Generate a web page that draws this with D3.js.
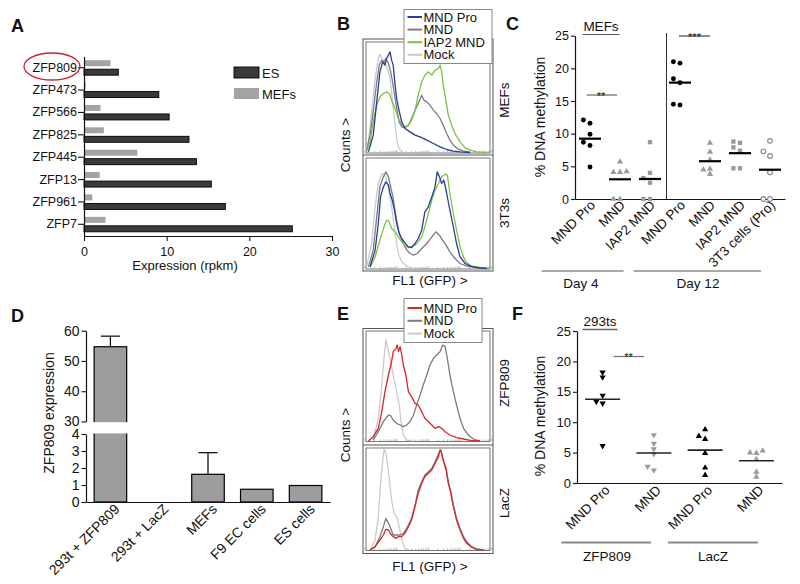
<!DOCTYPE html>
<html><head><meta charset="utf-8">
<script src="https://cdn.jsdelivr.net/npm/d3@7/dist/d3.min.js"></script>
<style>
html,body{margin:0;padding:0;background:#fff;}
svg{display:block;}
svg text{font-family:"Liberation Sans",Arial,Helvetica,sans-serif;fill:#111;}
</style></head>
<body>
<svg id="fig" width="800" height="584" viewBox="0 0 800 584"></svg>
<script>
// ================= DATA =================
// Panel A: expression (rpkm)
const genes   = ["ZFP809","ZFP473","ZFP566","ZFP825","ZFP445","ZFP13","ZFP961","ZFP7"];
const esExpr  = [4.15, 9.05, 10.3, 12.7, 13.6, 15.4, 17.1, 25.2];
const mefExpr = [3.2, 0.2, 2.0, 2.4, 6.45, 1.9, 1.0, 2.6];
const exprTicks = [0, 10, 20, 30];

// Panel B: FACS histograms [log10 FL1 decade, counts]
const mefsMock = [[0,2],[0.11,32],[0.21,122],[0.32,222],[0.42,282],[0.47,294],[0.56,277],[0.66,262],[0.77,232],[0.84,182],[0.89,132],[0.95,82],[1.0,42],[1.05,17],[1.11,7],[1.21,0]];
const mefsMnd = [[0.05,7],[0.16,52],[0.26,122],[0.37,212],[0.45,262],[0.53,277],[0.6,272],[0.66,282],[0.74,267],[0.81,242],[0.87,212],[0.95,162],[1.02,122],[1.08,92],[1.16,77],[1.26,74],[1.37,82],[1.47,102],[1.58,127],[1.68,147],[1.79,172],[1.86,157],[1.95,152],[2.05,142],[2.16,127],[2.26,117],[2.37,102],[2.47,82],[2.58,57],[2.68,37],[2.79,22],[2.95,10],[3.11,4],[3.32,0]];
const mefsIap2 = [[0.05,2],[0.16,32],[0.26,92],[0.37,142],[0.47,167],[0.58,177],[0.68,182],[0.77,177],[0.84,157],[0.95,132],[1.05,102],[1.16,84],[1.26,77],[1.37,82],[1.47,97],[1.58,127],[1.68,172],[1.79,212],[1.89,232],[2.0,242],[2.11,232],[2.21,247],[2.32,252],[2.37,262],[2.42,242],[2.47,202],[2.56,152],[2.63,112],[2.74,82],[2.84,57],[3.0,32],[3.16,14],[3.32,7],[3.53,2],[3.84,0]];
const mefsMndPro = [[0.11,2],[0.26,52],[0.37,152],[0.47,242],[0.56,272],[0.63,262],[0.68,282],[0.74,292],[0.79,302],[0.84,277],[0.89,262],[0.95,202],[1.0,162],[1.05,137],[1.11,112],[1.16,92],[1.26,72],[1.42,62],[1.58,52],[1.74,47],[1.95,37],[2.16,27],[2.37,17],[2.58,9],[2.79,4],[3.0,2],[3.32,0]];
const t3Mock = [[0.05,5],[0.21,75],[0.32,185],[0.42,255],[0.53,285],[0.63,280],[0.74,245],[0.84,185],[0.95,105],[1.05,45],[1.16,20],[1.32,7],[1.53,0]];
const t3Mnd = [[0.11,5],[0.26,55],[0.37,155],[0.47,245],[0.58,275],[0.66,290],[0.74,275],[0.81,245],[0.89,210],[0.98,155],[1.08,105],[1.21,75],[1.32,55],[1.42,45],[1.53,40],[1.65,45],[1.79,60],[1.95,75],[2.11,95],[2.24,110],[2.35,100],[2.45,85],[2.56,70],[2.68,50],[2.84,30],[3.0,15],[3.21,7],[3.53,3],[3.84,0]];
const t3Iap2 = [[0.16,3],[0.32,35],[0.47,85],[0.6,125],[0.68,145],[0.77,140],[0.84,120],[0.95,110],[1.05,95],[1.16,80],[1.26,70],[1.37,63],[1.47,65],[1.58,70],[1.68,80],[1.79,95],[1.89,125],[2.0,165],[2.11,205],[2.21,235],[2.32,255],[2.42,275],[2.53,283],[2.6,280],[2.68,225],[2.79,165],[2.89,115],[3.0,65],[3.11,35],[3.21,17],[3.37,7],[3.63,3],[3.95,0]];
const t3MndPro = [[0.16,5],[0.32,55],[0.42,135],[0.49,215],[0.58,245],[0.66,260],[0.74,250],[0.79,225],[0.86,205],[0.93,175],[1.0,135],[1.08,105],[1.16,90],[1.26,77],[1.37,65],[1.47,63],[1.58,75],[1.68,90],[1.79,115],[1.89,170],[2.0,185],[2.11,215],[2.21,245],[2.28,290],[2.35,275],[2.42,255],[2.49,265],[2.58,225],[2.68,175],[2.79,125],[2.89,75],[3.0,35],[3.16,15],[3.32,7],[3.53,3],[3.84,0]];

// Panel C: % DNA methylation
const cLabels = ["MND Pro","MND","IAP2 MND","MND Pro","MND","IAP2 MND","3T3 cells (Pro)"];
const cDay4MndPro  = [12.1, 11.6, 9.9, 8.7, 8.2, 4.9];
const cDay4Mnd     = [5.7, 4.2, 4.1, 4.1, 0, 0];
const cDay4Iap2    = [8.7, 4.0, 3.2, 2.5, 0, 0];
const cDay12MndPro = [21.0, 20.8, 18.4, 17.8, 14.5, 14.4];
const cDay12Mnd    = [8.6, 7.2, 6.0, 4.6, 4.5, 3.8];
const cDay12Iap2   = [8.8, 8.6, 7.9, 7.4, 4.7, 4.7];
const c3T3Pro      = [8.9, 7.3, 6.6, 4.1, 0, 0];
const methTicks = [0, 5, 10, 15, 20, 25];

// Panel D: ZFP809 expression
const dLabels = ["293t + ZFP809","293t + LacZ","MEFs","F9 EC cells","ES cells"];
const dValues = [54.7, 0, 1.63, 0.75, 0.97];
const dErrors = [3.5, 0, 1.27, 0, 0];
const dTicksHigh = [30, 40, 50, 60];
const dTicksLow = [0, 1, 2, 3, 4];

// Panel E: FACS histograms [log10 FL1 decade, counts]
const zfpMock = [[0.26,3],[0.42,68],[0.53,168],[0.6,248],[0.66,303],[0.74,268],[0.81,238],[0.89,198],[1.0,148],[1.08,108],[1.14,58],[1.21,18],[1.32,3],[1.53,0]];
const zfpMnd = [[0.26,3],[0.42,28],[0.58,58],[0.74,78],[0.81,76],[0.89,63],[1.0,53],[1.11,48],[1.21,43],[1.32,48],[1.42,58],[1.53,78],[1.63,108],[1.74,138],[1.84,168],[1.95,198],[2.05,228],[2.16,248],[2.26,258],[2.37,268],[2.45,288],[2.53,283],[2.6,248],[2.68,198],[2.79,148],[2.89,108],[3.0,68],[3.11,38],[3.26,18],[3.42,6],[3.63,0]];
const zfpMndPro = [[0.11,0],[0.26,13],[0.42,38],[0.53,88],[0.63,148],[0.74,198],[0.84,238],[0.89,268],[0.98,278],[1.02,288],[1.06,268],[1.11,283],[1.16,258],[1.21,228],[1.29,198],[1.37,148],[1.47,133],[1.58,113],[1.68,108],[1.79,88],[1.89,68],[2.0,58],[2.11,48],[2.21,38],[2.32,43],[2.42,38],[2.53,28],[2.68,18],[2.89,10],[3.11,6],[3.32,2],[3.63,0]];
const laczMock = [[0.16,0],[0.32,30],[0.42,100],[0.49,200],[0.56,270],[0.61,305],[0.68,280],[0.77,210],[0.84,150],[0.92,110],[1.0,100],[1.08,70],[1.16,30],[1.26,5],[1.42,0]];
const laczMnd = [[0.16,0],[0.32,10],[0.47,40],[0.58,70],[0.66,95],[0.77,75],[0.89,45],[1.0,45],[1.11,45],[1.21,50],[1.32,65],[1.47,95],[1.58,135],[1.68,180],[1.79,205],[1.89,225],[2.0,235],[2.11,245],[2.21,265],[2.35,295],[2.4,300],[2.45,275],[2.56,245],[2.63,205],[2.71,175],[2.79,135],[2.89,95],[3.0,65],[3.11,40],[3.21,25],[3.37,10],[3.53,3],[3.74,0]];
const laczMndPro = [[0.16,0],[0.32,10],[0.47,30],[0.58,45],[0.66,62],[0.74,60],[0.81,48],[0.89,40],[0.98,35],[1.05,40],[1.16,40],[1.26,50],[1.37,70],[1.47,90],[1.58,130],[1.68,170],[1.79,200],[1.89,220],[2.0,230],[2.11,240],[2.21,260],[2.32,280],[2.37,300],[2.42,290],[2.47,270],[2.56,240],[2.63,200],[2.71,170],[2.79,130],[2.89,90],[3.0,60],[3.11,35],[3.21,20],[3.37,8],[3.53,2],[3.74,0]];

// Panel F: % DNA methylation
const fLabels = ["MND Pro","MND","MND Pro","MND"];
const fZfpMndPro  = [18.2, 17.4, 14.4, 13.4, 13.1, 6.1];
const fZfpMnd     = [7.9, 6.5, 5.6, 4.8, 2.7, 2.1];
const fLaczMndPro = [8.8, 7.7, 7.2, 4.9, 2.5, 1.3];
const fLaczMnd    = [5.3, 5.0, 4.9, 3.9, 1.8, 1.0];

// ================= DRAWING =================
const FONT = '"Liberation Sans", Arial, Helvetica, sans-serif';
const svg = d3.select("#fig");
const INK = "#111";

function styleAxis(sel, size) {
  sel.attr("font-family", FONT).attr("font-size", size);
  sel.selectAll("path.domain").attr("stroke", INK).attr("stroke-width", 1.2);
  sel.selectAll(".tick line").attr("stroke", INK).attr("stroke-width", 1.1);
  sel.selectAll(".tick text").attr("fill", INK);
}
function text(g, x, y, s, size, anchor, extra) {
  const t = g.append("text").attr("x", x).attr("y", y).attr("font-size", size)
    .attr("text-anchor", anchor || "start").text(s);
  if (extra) extra(t);
  return t;
}
function vtext(g, x, y, s, size, rot) {
  return g.append("text").attr("transform", `translate(${x},${y}) rotate(${rot})`)
    .attr("text-anchor", "middle").attr("font-size", size).text(s);
}
function rotLabel(g, x, y, s, size) {
  return g.append("text").attr("transform", `translate(${x},${y}) rotate(-45)`)
    .attr("text-anchor", "end").attr("font-size", size).text(s);
}
function letter(x, y, s) {
  svg.append("text").attr("x", x).attr("y", y).attr("font-size", 18)
    .attr("font-weight", "bold").text(s);
}

letter(11, 32, "A"); letter(337, 30, "B"); letter(506, 30, "C");
letter(11, 322, "D"); letter(337, 320, "E"); letter(512, 320, "F");

// ---------- Panel A ----------
{
  const g = svg.append("g");
  const x = d3.scaleLinear().domain([0, 30]).range([84, 332]);
  const y = d3.scaleBand().domain(genes).range([56.5, 235.5]);
  const half = y.step() / 2;
  g.selectAll("rect.mef").data(genes).join("rect").attr("class", "mef")
    .attr("x", x(0)).attr("y", d => y(d) + half - 7.5)
    .attr("width", (d, i) => x(mefExpr[i]) - x(0)).attr("height", 6)
    .attr("fill", "#a3a3a6");
  g.selectAll("rect.es").data(genes).join("rect").attr("class", "es")
    .attr("x", x(0)).attr("y", d => y(d) + half + 1.5)
    .attr("width", (d, i) => x(esExpr[i]) - x(0)).attr("height", 6)
    .attr("fill", "#3a3a3a").attr("stroke", "#000").attr("stroke-width", 0.9);
  g.append("g").attr("transform", "translate(0,236)")
    .call(d3.axisBottom(x).tickValues(exprTicks).tickSize(5).tickSizeOuter(0).tickPadding(6))
    .call(s => styleAxis(s, 12.5));
  g.append("g").attr("transform", "translate(84,0)")
    .call(d3.axisLeft(y).tickSize(6).tickSizeOuter(0).tickPadding(1))
    .call(s => styleAxis(s, 12.5));
  text(g, 185, 270, "Expression (rpkm)", 13, "middle");
  // legend
  g.append("rect").attr("x", 234).attr("y", 67).attr("width", 25).attr("height", 11)
    .attr("fill", "#3a3a3a").attr("stroke", "#000").attr("stroke-width", 0.9);
  g.append("rect").attr("x", 234).attr("y", 88).attr("width", 25).attr("height", 11)
    .attr("fill", "#a3a3a6");
  text(g, 262, 77.5, "ES", 13);
  text(g, 262, 98.5, "MEFs", 13);
  // highlight
  g.append("ellipse").attr("cx", 52).attr("cy", 66.5).attr("rx", 28).attr("ry", 13.5)
    .attr("fill", "none").attr("stroke", "#cf1f2e").attr("stroke-width", 1.3);
}

// ---------- FACS panels (B, E) ----------
function facs(cfg) {
  const g = svg.append("g");
  const x = d3.scaleLog().domain([1, 1e4]).range([365, 491.7]);
  const line = y => d3.line().x(d => x(Math.pow(10, d[0]))).y(d => y(d[1]));
  g.append("rect").attr("x", 363).attr("y", cfg.top).attr("width", 130)
    .attr("height", cfg.bottom - cfg.top).attr("fill", "none").attr("stroke", "#555").attr("stroke-width", 1);
  g.append("line").attr("x1", 363).attr("x2", 493).attr("y1", cfg.mid).attr("y2", cfg.mid)
    .attr("stroke", "#555").attr("stroke-width", 1);
  cfg.subplots.forEach(sp => {
    g.append("rect").attr("x", 366).attr("y", sp.top).attr("width", 124)
      .attr("height", sp.base - sp.top + 0.5).attr("fill", "none").attr("stroke", "#666").attr("stroke-width", 0.9);
    const y = d3.scaleLinear().domain([0, 330]).range([sp.base, sp.base - 110]);
    g.append("g").selectAll("line").data(x.ticks()).join("line")
      .attr("x1", d => x(d)).attr("x2", d => x(d))
      .attr("y1", sp.base).attr("y2", d => sp.base - (Math.log10(d) % 1 === 0 ? 2.5 : 1.6))
      .attr("stroke", "#999").attr("stroke-width", 0.7);
    sp.series.forEach(s => {
      g.append("path").datum(s.data).attr("d", line(y)).attr("fill", "none")
        .attr("stroke", s.color).attr("stroke-width", 1.3).attr("stroke-linejoin", "round");
    });
    vtext(g, 508.5, sp.labelY, sp.label, 13.5, -90);
  });
  vtext(g, 350, cfg.countsY, "Counts >", 13.5, -90);
  text(g, 430, cfg.flY, "FL1 (GFP) >", 13.5, "middle");
  // legend
  const L = cfg.legend;
  g.append("rect").attr("x", 404).attr("y", L.top).attr("width", L.w).attr("height", L.h)
    .attr("fill", "#fff").attr("stroke", "#888").attr("stroke-width", 1);
  L.items.forEach((it, i) => {
    const by = L.first + i * L.step;
    g.append("line").attr("x1", 407.5).attr("x2", 422).attr("y1", by - 4.5).attr("y2", by - 4.5)
      .attr("stroke", it.color).attr("stroke-width", 2);
    text(g, 423.5, by, it.name, 13);
  });
}

const cBlue = "#2b3c9d", cGray = "#7c7c7c", cGreen = "#7cc242", cMock = "#cacaca", cRed = "#d8262c";
facs({
  top: 39, mid: 155, bottom: 271, countsY: 145, flY: 285,
  subplots: [
    { top: 42, base: 152.5, label: "MEFs", labelY: 100,
      series: [{data: mefsMock, color: cMock}, {data: mefsMnd, color: cGray},
               {data: mefsIap2, color: cGreen}, {data: mefsMndPro, color: cBlue}] },
    { top: 158, base: 268.5, label: "3T3s", labelY: 213,
      series: [{data: t3Mock, color: cMock}, {data: t3Mnd, color: cGray},
               {data: t3Iap2, color: cGreen}, {data: t3MndPro, color: cBlue}] }
  ],
  legend: { top: 9.5, w: 88, h: 54, first: 21.5, step: 12.6,
    items: [{name: "MND Pro", color: cBlue}, {name: "MND", color: cGray},
            {name: "IAP2 MND", color: cGreen}, {name: "Mock", color: cMock}] }
});
facs({
  top: 328.5, mid: 445, bottom: 553.5, countsY: 435, flY: 571,
  subplots: [
    { top: 331, base: 441, label: "ZFP809", labelY: 383,
      series: [{data: zfpMock, color: cMock}, {data: zfpMnd, color: cGray},
               {data: zfpMndPro, color: cRed}] },
    { top: 448, base: 550, label: "LacZ", labelY: 503,
      series: [{data: laczMock, color: cMock}, {data: laczMnd, color: cGray},
               {data: laczMndPro, color: cRed}] }
  ],
  legend: { top: 298.5, w: 78, h: 44, first: 312.5, step: 12.8,
    items: [{name: "MND Pro", color: cRed}, {name: "MND", color: cGray},
            {name: "Mock", color: cMock}] }
});

// ---------- scatter helpers ----------
function dodge(values, y, step, minDist) {
  const order = values.map((v, i) => i).sort((a, b) => values[a] - values[b]);
  const placed = [], off = new Array(values.length).fill(0);
  for (const i of order) {
    const py = y(values[i]);
    for (const k of [0, -1, 1, -2, 2, -3, 3]) {
      const px = k * step;
      if (placed.every(p => Math.hypot(p[0] - px, p[1] - py) >= minDist)) {
        off[i] = px; placed.push([px, py]); break;
      }
    }
  }
  return off;
}
function drawGroup(g, values, cx, y, st, step, meanHalf, meanW, meanColor) {
  const off = dodge(values, y, step, 4.8);
  const sym = d3.symbol().type(st.type).size(st.size);
  g.append("g").selectAll("path").data(values).join("path")
    .attr("transform", (d, i) => `translate(${cx + off[i]},${y(d)}) rotate(${st.rot || 0})`)
    .attr("d", sym()).attr("fill", st.fill).attr("stroke", st.stroke || "none")
    .attr("stroke-width", st.sw || 0);
  const m = d3.mean(values);
  g.append("line").attr("x1", cx - meanHalf).attr("x2", cx + meanHalf)
    .attr("y1", y(m)).attr("y2", y(m)).attr("stroke", meanColor).attr("stroke-width", meanW);
}
const symCircleBlack = {type: d3.symbolCircle, size: 19, fill: "#000"};
const symTriGray = {type: d3.symbolTriangle, size: 17, fill: "#9a9a9a"};
const symSqGray = {type: d3.symbolSquare, size: 19, fill: "#9a9a9a"};
const symOpenCircle = {type: d3.symbolCircle, size: 17, fill: "#fff", stroke: "#8a8a8a", sw: 1.2};
const symDownBlack = {type: d3.symbolTriangle, size: 17, fill: "#000", rot: 180};
const symDownGray = {type: d3.symbolTriangle, size: 17, fill: "#9a9a9a", rot: 180};
const symUpBlack = {type: d3.symbolTriangle, size: 17, fill: "#000"};
const symUpGray = {type: d3.symbolTriangle, size: 17, fill: "#9a9a9a"};

// ---------- Panel C ----------
{
  const g = svg.append("g");
  const x = d3.scaleBand().domain(d3.range(cLabels.length)).range([575, 785]);
  const y = d3.scaleLinear().domain([0, 25]).range([199, 35.7]);
  const c = i => x(i) + x.bandwidth() / 2;
  g.append("g").attr("transform", "translate(575,0)")
    .call(d3.axisLeft(y).tickValues(methTicks).tickSize(4).tickSizeOuter(0).tickPadding(2))
    .call(s => styleAxis(s, 12.5));
  g.append("g").attr("transform", "translate(0,199)")
    .call(d3.axisBottom(x).tickSize(0).tickSizeOuter(0).tickFormat(""))
    .call(s => styleAxis(s, 12));
  g.append("line").attr("x1", 666.5).attr("x2", 666.5).attr("y1", 33).attr("y2", 199)
    .attr("stroke", "#333").attr("stroke-width", 1);
  cLabels.forEach((s, i) => rotLabel(g, c(i) + 6, 206, s, 13.5));
  vtext(g, 545, 117, "% DNA methylation", 14, -90);
  const groups = [cDay4MndPro, cDay4Mnd, cDay4Iap2, cDay12MndPro, cDay12Mnd, cDay12Iap2, c3T3Pro];
  const styles = [symCircleBlack, symTriGray, symSqGray, symCircleBlack, symTriGray, symSqGray, symOpenCircle];
  groups.forEach((vals, i) => drawGroup(g, vals, c(i), y, styles[i], 6.6, 11, 2.2, "#000"));
  // annotations
  const hl = (x1, x2, yy, col, w) => g.append("line").attr("x1", x1).attr("x2", x2)
    .attr("y1", yy).attr("y2", yy).attr("stroke", col).attr("stroke-width", w || 1);
  hl(582.5, 619.5, 34.5, "#555", 1.2);
  text(g, 601, 31, "MEFs", 13.5, "middle");
  hl(586.5, 617, 95, "#666", 1.2);
  text(g, 601, 99.5, "**", 11, "middle", t => t.attr("fill", "#444"));
  hl(679, 710, 36, "#444", 1.2);
  text(g, 694.5, 40.5, "***", 11, "middle", t => t.attr("fill", "#333"));
  hl(541.5, 623.5, 271, "#555", 1);
  hl(633.5, 761, 271, "#555", 1);
  text(g, 581, 288, "Day 4", 13.5, "middle");
  text(g, 698, 288, "Day 12", 13.5, "middle");
}

// ---------- Panel D ----------
{
  const g = svg.append("g");
  const x = d3.scaleBand().domain(dLabels).range([86, 330]).paddingInner(0.333).paddingOuter(0.1667);
  const yHi = d3.scaleLinear().domain([30, 60]).range([421.5, 330.7]);
  const yLo = d3.scaleLinear().domain([0, 4]).range([502, 434]);
  const yv = v => (v > 4 ? yHi(v) : yLo(v));
  g.selectAll("rect.bar").data(dLabels).join("rect").attr("class", "bar")
    .attr("x", d => x(d)).attr("width", x.bandwidth())
    .attr("y", (d, i) => yv(dValues[i])).attr("height", (d, i) => 502 - yv(dValues[i]))
    .attr("fill", "#9d9d9f").attr("stroke", "#000").attr("stroke-width", 1.2)
    .attr("display", (d, i) => dValues[i] > 0 ? null : "none");
  dLabels.forEach((d, i) => {
    if (!dErrors[i]) return;
    const cx = x(d) + x.bandwidth() / 2, top = yv(dValues[i] + dErrors[i]);
    g.append("line").attr("x1", cx).attr("x2", cx).attr("y1", yv(dValues[i])).attr("y2", top)
      .attr("stroke", "#000").attr("stroke-width", 1.2);
    g.append("line").attr("x1", cx - 9.5).attr("x2", cx + 9.5).attr("y1", top).attr("y2", top)
      .attr("stroke", "#000").attr("stroke-width", 1.2);
  });
  const fmt = d3.format("d");
  g.append("g").attr("transform", "translate(86,0)")
    .call(d3.axisLeft(yHi).tickValues(dTicksHigh).tickFormat(fmt).tickSize(4.5).tickSizeOuter(0).tickPadding(2))
    .call(s => styleAxis(s, 14));
  g.append("g").attr("transform", "translate(86,0)")
    .call(d3.axisLeft(yLo).tickValues(dTicksLow).tickFormat(fmt).tickSize(4.5).tickSizeOuter(0).tickPadding(2))
    .call(s => styleAxis(s, 14));
  // axis break gap
  g.append("rect").attr("x", 87.5).attr("y", 422.2).attr("width", 45).attr("height", 11.2).attr("fill", "#fff");
  g.append("g").attr("transform", "translate(0,502)")
    .call(d3.axisBottom(x).tickSize(0).tickSizeOuter(0).tickFormat(""))
    .call(s => styleAxis(s, 14));
  dLabels.forEach(d => rotLabel(g, x(d) + x.bandwidth() / 2 + 10, 510, d, 14));
  vtext(g, 54, 413, "ZFP809 expression", 14, -90);
}

// ---------- Panel F ----------
{
  const g = svg.append("g");
  const x = d3.scaleBand().domain(d3.range(fLabels.length)).range([577, 782]);
  const y = d3.scaleLinear().domain([0, 25]).range([483, 331]);
  const c = i => x(i) + x.bandwidth() / 2;
  g.append("g").attr("transform", "translate(577,0)")
    .call(d3.axisLeft(y).tickValues(methTicks).tickSize(4).tickSizeOuter(0).tickPadding(2))
    .call(s => styleAxis(s, 13));
  g.append("g").attr("transform", "translate(0,483)")
    .call(d3.axisBottom(x).tickSize(0).tickSizeOuter(0).tickFormat(""))
    .call(s => styleAxis(s, 12));
  fLabels.forEach((s, i) => rotLabel(g, c(i) + 8, 491, s, 13.5));
  vtext(g, 545, 416, "% DNA methylation", 14, -90);
  const groups = [fZfpMndPro, fZfpMnd, fLaczMndPro, fLaczMnd];
  const styles = [symDownBlack, symDownGray, symUpBlack, symUpGray];
  groups.forEach((vals, i) => drawGroup(g, vals, c(i), y, styles[i], 6.3, 17.5, 1.6, "#222"));
  const hl = (x1, x2, yy, col, w) => g.append("line").attr("x1", x1).attr("x2", x2)
    .attr("y1", yy).attr("y2", yy).attr("stroke", col).attr("stroke-width", w || 1);
  hl(582.5, 617.5, 329.5, "#666", 1.3);
  text(g, 600, 326, "293ts", 13.5, "middle");
  hl(613.5, 644, 356.5, "#777", 1.3);
  text(g, 628.5, 361, "**", 11, "middle", t => t.attr("fill", "#444"));
  hl(561.5, 651, 542.5, "#888", 1.8);
  hl(668, 758, 542.5, "#888", 1.8);
  text(g, 607, 561, "ZFP809", 13.5, "middle");
  text(g, 713, 561, "LacZ", 13.5, "middle");
}
</script>
</body></html>
